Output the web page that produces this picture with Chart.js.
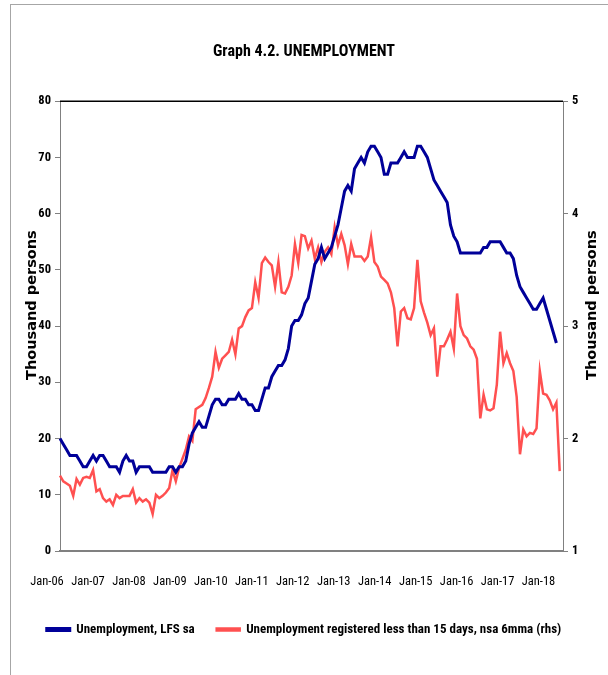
<!DOCTYPE html>
<html>
<head>
<meta charset="utf-8">
<script src="https://cdn.jsdelivr.net/npm/chart.js@4.4.1/dist/chart.umd.min.js"></script>
<style>
  html, body { margin: 0; padding: 0; background: #fff; }
  #wrap { position: relative; width: 608px; height: 675px; }
  #frame { position: absolute; left: 10px; top: 4px; right: 0; bottom: 0;
           border-left: 1px solid #a6a6a6; border-top: 1px solid #a6a6a6; pointer-events: none; }
  canvas { position: absolute; left: 0; top: 0; }
</style>
</head>
<body>
<div id="wrap">
  <canvas id="chart" width="608" height="675"></canvas>
  <div id="frame"></div>
</div>
<script>
const yearLabels = ["Jan-06", "Jan-07", "Jan-08", "Jan-09", "Jan-10", "Jan-11", "Jan-12",
  "Jan-13", "Jan-14", "Jan-15", "Jan-16", "Jan-17", "Jan-18"];
const monthNames = ["Jan", "Feb", "Mar", "Apr", "May", "Jun", "Jul", "Aug", "Sep", "Oct", "Nov", "Dec"];

// monthly categories, Jan-06 .. Sep-18
const months = [];
for (let i = 0; i < 153; i++) {
  const yy = String(6 + Math.floor(i / 12)).padStart(2, "0");
  months.push(monthNames[i % 12] + "-" + yy);
}

// Unemployment, LFS sa (thousand persons, lhs)
const lfs = [
  20, 19, 18, 17, 17, 17, 16, 15, 15, 16, 17, 16,
  17, 17, 16, 15, 15, 15, 14, 16, 17, 16, 16, 14,
  15, 15, 15, 15, 14, 14, 14, 14, 14, 15, 15, 14,
  15, 15, 16, 19, 21, 22, 23, 22, 22, 24, 26, 27,
  27, 26, 26, 27, 27, 27, 28, 27, 27, 26, 26, 25,
  25, 27, 29, 29, 31, 32, 33, 33, 34, 36, 40, 41,
  41, 42, 44, 45, 48, 51, 52, 54, 52, 53, 54, 56,
  58, 61, 64, 65, 64, 68, 69, 70, 69, 71, 72, 72,
  71, 70, 67, 67, 69, 69, 69, 70, 71, 70, 70, 70,
  72, 72, 71, 70, 68, 66, 65, 64, 63, 62, 58, 56,
  55, 53, 53, 53, 53, 53, 53, 53, 54, 54, 55, 55,
  55, 55, 54, 53, 53, 52, 49, 47, 46, 45, 44, 43,
  43, 44, 45, 43, 41, 39, 37
];

// Unemployment registered less than 15 days, nsa 6mma (thousand persons, rhs)
const registered = [
  1.67, 1.62, 1.60, 1.58, 1.49, 1.64, 1.59, 1.65, 1.66, 1.65, 1.72, 1.53,
  1.55, 1.47, 1.44, 1.46, 1.41, 1.50, 1.47, 1.49, 1.49, 1.49, 1.55, 1.43,
  1.47, 1.44, 1.46, 1.43, 1.33, 1.50, 1.47, 1.49, 1.52, 1.56, 1.72, 1.62,
  1.74, 1.82, 1.90, 2.02, 1.98, 2.26, 2.28, 2.30, 2.36, 2.45, 2.55, 2.77,
  2.63, 2.71, 2.74, 2.77, 2.88, 2.75, 2.98, 3.00, 3.08, 3.14, 3.16, 3.39,
  3.25, 3.56, 3.61, 3.57, 3.54, 3.35, 3.57, 3.30, 3.29, 3.35, 3.45, 3.73,
  3.56, 3.81, 3.80, 3.69, 3.76, 3.60, 3.70, 3.57, 3.66, 3.70, 3.64, 3.88,
  3.72, 3.82, 3.72, 3.55, 3.73, 3.62, 3.62, 3.62, 3.58, 3.62, 3.79, 3.57,
  3.53, 3.44, 3.41, 3.38, 3.30, 3.16, 2.82, 3.13, 3.16, 3.07, 3.06, 3.16,
  3.59, 3.22, 3.12, 3.03, 2.92, 2.98, 2.55, 2.82, 2.82, 2.88, 2.95, 2.80,
  3.29, 3.00, 2.92, 2.89, 2.82, 2.79, 2.71, 2.18, 2.39, 2.26, 2.25, 2.27,
  2.48, 2.95, 2.67, 2.76, 2.67, 2.60, 2.37, 1.86, 2.08, 2.02, 2.05, 2.04,
  2.09, 2.60, 2.40, 2.39, 2.34, 2.26, 2.32, 1.71
];

const FONT = "'Roboto Condensed', 'DejaVu Sans Condensed', sans-serif";
const AXIS_TITLE = "Thousand persons";

// top black border of the plot + both axis titles (reading bottom-to-top, sitting a bit above centre)
const extras = {
  id: "extras",
  afterDraw(chart) {
    const { ctx, chartArea: a } = chart;
    ctx.save();
    ctx.strokeStyle = "#000";
    ctx.lineWidth = 1.5;
    ctx.beginPath();
    ctx.moveTo(a.left, a.top);
    ctx.lineTo(a.right, a.top);
    ctx.stroke();
    ctx.restore();

    const midY = (a.top + a.bottom) / 2 - 21;
    for (const x of [32, 592]) {
      ctx.save();
      ctx.translate(x, midY);
      ctx.rotate(-Math.PI / 2);
      ctx.font = "bold 14.5px 'DejaVu Sans', sans-serif";
      ctx.fillStyle = "#000";
      ctx.textAlign = "center";
      ctx.textBaseline = "middle";
      ctx.fillText(AXIS_TITLE, 0, 0);
      ctx.restore();
    }
  },
};

new Chart(document.getElementById("chart"), {
  type: "line",
  data: {
    labels: months,
    datasets: [
      { label: "Unemployment, LFS sa", data: lfs, yAxisID: "y",
        borderColor: "#000099", backgroundColor: "#000099", borderWidth: 3 },
      { label: "Unemployment registered less than 15 days, nsa 6mma (rhs)", data: registered, yAxisID: "y2",
        borderColor: "#ff5050", backgroundColor: "#ff5050", borderWidth: 2.5 },
    ],
  },
  options: {
    responsive: false,
    animation: false,
    devicePixelRatio: 1,
    elements: { point: { radius: 0 }, line: { tension: 0 } },
    layout: { padding: { left: 0, right: 0, top: 0, bottom: 29 } },
    plugins: {
      title: {
        display: true,
        text: "Graph 4.2. UNEMPLOYMENT",
        color: "#000",
        font: { family: FONT, size: 16, weight: "bold", lineHeight: 1.2 },
        padding: { top: 42, bottom: 40 },
      },
      legend: {
        position: "bottom",
        labels: {
          color: "#000",
          font: { family: FONT, size: 13, weight: "bold" },
          boxWidth: 23,
          boxHeight: 2,
          padding: 22,
        },
      },
      tooltip: { enabled: false },
    },
    scales: {
      x: { type: "category", display: false, offset: false },
      xl: {
        type: "linear",
        position: "bottom",
        min: 0,
        max: 12.28,
        grid: { display: false },
        border: { display: true, color: "#808080", width: 2 },
        afterFit: (s) => { s.height = 50; },
        ticks: {
          stepSize: 1,
          includeBounds: false,
          autoSkip: false,
          maxRotation: 0,
          padding: 15,
          labelOffset: -13,
          color: "#000",
          font: { family: FONT, size: 12.5 },
          callback: (v) => (Number.isInteger(v) ? yearLabels[v] : ""),
        },
      },
      y: {
        position: "left",
        min: 0,
        max: 80,
        afterFit: (s) => { s.width = 60; },
        grid: { drawOnChartArea: false, drawTicks: true, tickLength: 5, color: "#808080" },
        border: { display: true, color: "#808080", width: 1 },
        ticks: { stepSize: 10, padding: 4, color: "#000", font: { family: FONT, size: 12.5, weight: "bold" } },
      },
      y2: {
        position: "right",
        min: 1,
        max: 5,
        afterFit: (s) => { s.width = 45; },
        grid: { drawOnChartArea: false, drawTicks: true, tickLength: 5, color: "#808080" },
        border: { display: true, color: "#808080", width: 1 },
        ticks: { stepSize: 1, padding: 4, color: "#000", font: { family: FONT, size: 12.5, weight: "bold" } },
      },
    },
  },
  plugins: [extras],
});
</script>
</body>
</html>
